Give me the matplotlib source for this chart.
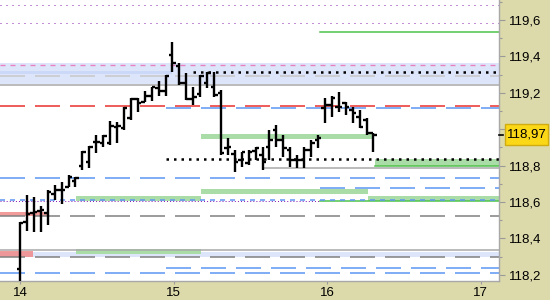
import matplotlib
matplotlib.use('Agg')
import matplotlib.pyplot as plt
import matplotlib.transforms as mtransforms
from matplotlib.patches import Rectangle

plt.rcParams['font.family'] = ['Liberation Sans', 'DejaVu Sans']
plt.rcParams['lines.scale_dashes'] = False

# hourly OHLC bars, bar 0 = first bar of the 14th
opens = [118.232, 118.490, 118.541, 118.552, 118.538, 118.644, 118.666, 118.684, 118.717, 118.798,
         118.821, 118.931, 118.923, 118.924, 119.014, 119.007, 119.062, 119.166, 119.151, 119.184,
         119.225, 119.210, 119.408, 119.349, 119.256, 119.166, 119.193, 119.256, 119.234, 119.197,
         118.897, 118.864, 118.831, 118.814, 118.882, 118.858, 118.902, 118.996, 118.941, 118.886,
         118.831, 118.831, 118.886, 118.941, 119.116, 119.133, 119.124, 119.144, 119.105, 119.069,
         119.051, 118.977]
highs = [118.492, 118.638, 118.627, 118.578, 118.666, 118.693, 118.710, 118.748, 118.737, 118.880,
         118.908, 118.968, 118.968, 119.045, 119.041, 119.124, 119.171, 119.171, 119.210, 119.234,
         119.265, 119.298, 119.477, 119.364, 119.309, 119.232, 119.298, 119.316, 119.316, 119.215,
         118.952, 118.886, 118.876, 118.886, 118.902, 118.904, 118.996, 119.023, 118.968, 118.904,
         118.858, 118.904, 118.941, 118.968, 119.171, 119.182, 119.206, 119.151, 119.124, 119.105,
         119.062, 118.977]
lows = [118.140, 118.442, 118.437, 118.437, 118.474, 118.611, 118.589, 118.682, 118.684, 118.776,
        118.788, 118.871, 118.901, 118.913, 118.926, 118.996, 119.051, 119.096, 119.151, 119.157,
        119.182, 119.182, 119.314, 119.243, 119.160, 119.133, 119.179, 119.225, 119.179, 118.858,
        118.858, 118.766, 118.794, 118.803, 118.831, 118.776, 118.831, 118.904, 118.849, 118.794,
        118.785, 118.785, 118.849, 118.895, 119.034, 119.069, 119.096, 119.078, 119.032, 119.005,
        118.968, 118.876]
closes = [118.486, 118.534, 118.547, 118.556, 118.657, 118.666, 118.666, 118.736, 118.732, 118.875,
          118.904, 118.931, 118.964, 119.018, 119.018, 119.116, 119.166, 119.144, 119.184, 119.230,
          119.210, 119.294, 119.362, 119.256, 119.166, 119.179, 119.292, 119.310, 119.188, 118.871,
          118.902, 118.821, 118.876, 118.876, 118.897, 118.821, 118.941, 118.941, 118.897, 118.831,
          118.831, 118.886, 118.923, 118.952, 119.133, 119.171, 119.124, 119.124, 119.089, 119.014,
          118.977, 118.970]
last_price = 118.97

day_labels = ['14', '15', '16', '17']
day_bars = [0, 22.2, 44.3, 66.5]
price_ticks = [118.2, 118.4, 118.6, 118.8, 119.0, 119.2, 119.4, 119.6]

# support / resistance levels (price, start bar, end bar)
purple_dotted = [(119.682, None, None), (119.582, None, None), (118.603, None, 43.3)]
green_lines = [(119.532, 43.3, None), (118.798, 51.2, None), (118.603, 43.3, None)]
red_dashed = [119.126]
pink_dashed = [119.351]
lightgray_dashed = [119.291]
gray_dashed = [118.521, 118.300]
gray_solid = [(119.243, None, None), (118.787, 35.06, None), (118.336, None, None)]
blue_long_dash = [(119.115, 21.07, None), (118.732, None, None), (118.677, 43.3, None),
                  (118.237, 21.07, None), (118.208, None, None)]
blue_short_dash = [118.611]
black_dotted = [(119.316, 25.0, None), (118.835, 21.07, None)]
blue_zones = [(119.248, 119.365, None, None), (118.297, 118.325, None, None)]
dark_blue_zones = [(119.303, 119.321, None, 21.9)]
green_zones = [(118.948, 118.974, 26.1, 50.9), (118.798, 118.836, 51.2, None),
               (118.644, 118.671, 26.1, 50.2), (118.605, 118.633, 8.08, 26.1),
               (118.605, 118.633, 50.2, None), (118.314, 118.342, 8.08, 26.1)]
red_zones = [(118.523, 118.545, None, 3.9), (118.297, 118.330, None, 1.88)]

XMIN, XMAX = -2.89, 69.12
YMIN, YMAX = 118.166, 119.710
PX = 0.72

fig = plt.figure(figsize=(5.5, 3), dpi=100)
fig.patch.set_facecolor('#dcd9aa')
ax = fig.add_axes([0, 19 / 300, 499 / 550, 281 / 300])
ax.set_facecolor('white')
ax.set_xlim(XMIN, XMAX)
ax.set_ylim(YMIN, YMAX)


def span(start, end):
    return (XMIN if start is None else start), (XMAX if end is None else end)


def zone(lo, hi, start, end, color, alpha=1.0):
    x0, x1 = span(start, end)
    ax.fill_between([x0, x1], lo, hi, color=color, alpha=alpha, lw=0, zorder=1)


def level(y, start, end, **kw):
    x0, x1 = span(start, end)
    ax.plot([x0, x1], [y, y], **kw)


for lo, hi, s, e in blue_zones:
    zone(lo, hi, s, e, '#dde5fb')
for lo, hi, s, e in dark_blue_zones:
    zone(lo, hi, s, e, '#cbd8f8')
for lo, hi, s, e in green_zones:
    zone(lo, hi, s, e, '#a9dca7')
for lo, hi, s, e in red_zones:
    zone(lo, hi, s, e, '#f08a8a', alpha=0.85)

for y, s, e in purple_dotted:
    dots = (0, (PX, 3.6)) if s is None and e is None else (0, (PX, 1.5))
    level(y, s, e, color='#8a1fb0', lw=PX, ls=dots, zorder=2)
for y, s, e in green_lines:
    level(y, s, e, color='#4fc24a', lw=1.1, zorder=2)
for y in red_dashed:
    level(y, None, None, color='#e8302c', lw=1.1, ls=(0, (18, 7.2)), zorder=2)
for y in pink_dashed:
    level(y, None, None, color='#e880c0', lw=1.0, ls=(0, (3.6, 3.6)), zorder=2)
for y in lightgray_dashed:
    level(y, None, None, color='#c8c8c8', lw=1.1, ls=(0, (18, 7.2)), zorder=2)
for y in gray_dashed:
    level(y, None, None, color='#808080', lw=1.1, ls=(0, (18, 7.2)), zorder=2)
for y, s, e in gray_solid:
    level(y, s, e, color='#a8a8a8', lw=1.1, zorder=2)
for y, s, e in blue_long_dash:
    level(y, s, e, color='#5b96f2', lw=1.1, ls=(0, (18, 7.2)), zorder=2)
for y in blue_short_dash:
    level(y, None, None, color='#5b96f2', lw=1.1, ls=(0, (3.6, 3.6)), zorder=2)
for y, s, e in black_dotted:
    level(y, s, e, color='black', lw=1.8, ls=(0, (1.8, 3.6)), zorder=2)

# OHLC bars
idx = list(range(len(opens)))
ax.vlines(idx, lows, highs, color='black', lw=1.7, zorder=4)
ax.hlines(opens, [i - 0.5 for i in idx], idx, color='black', lw=1.7, zorder=4)
ax.hlines(closes, idx, [i + 0.5 for i in idx], color='black', lw=1.7, zorder=4)

# axes styling
for side in ['top', 'left']:
    ax.spines[side].set_visible(False)
for side in ['right', 'bottom']:
    ax.spines[side].set_color('#a8a8a8')
    ax.spines[side].set_linewidth(1.0)

ax.yaxis.tick_right()
ax.set_yticks(price_ticks)
ax.set_yticklabels([f'{v:.1f}'.replace('.', ',') for v in price_ticks])
ax.set_yticks([118.3, 118.5, 118.7, 118.9, 119.1, 119.3, 119.5, 119.7], minor=True)
ax.tick_params(axis='y', which='major', direction='out', length=4, width=0.8,
               color='#9a9a9a', pad=3, labelsize=9.5)
ax.tick_params(axis='y', which='minor', direction='out', length=2, width=0.8, color='#9a9a9a')
ax.set_xticks(day_bars)
ax.set_xticklabels(day_labels)
ax.tick_params(axis='x', direction='out', length=2.5, width=0.8, color='#9a9a9a',
               pad=1.5, labelsize=9.5)

# last price marker
trans = mtransforms.blended_transform_factory(ax.transAxes, ax.transData)
ax.plot([1.0, 1.008], [last_price, last_price], color='black', lw=1.2,
        transform=trans, clip_on=False, zorder=5)
box_h = 0.058
ax.add_patch(Rectangle((1.012, last_price - box_h), 0.086, 2 * box_h, transform=trans,
                       fc='#fbd817', ec='#d0ac10', lw=1.0, clip_on=False, zorder=6))
ax.text(1.055, last_price, f'{last_price:.2f}'.replace('.', ','), transform=trans,
        fontsize=9.5, va='center', ha='center', zorder=7)

fig.savefig('out.png', dpi=100, facecolor=fig.get_facecolor())
